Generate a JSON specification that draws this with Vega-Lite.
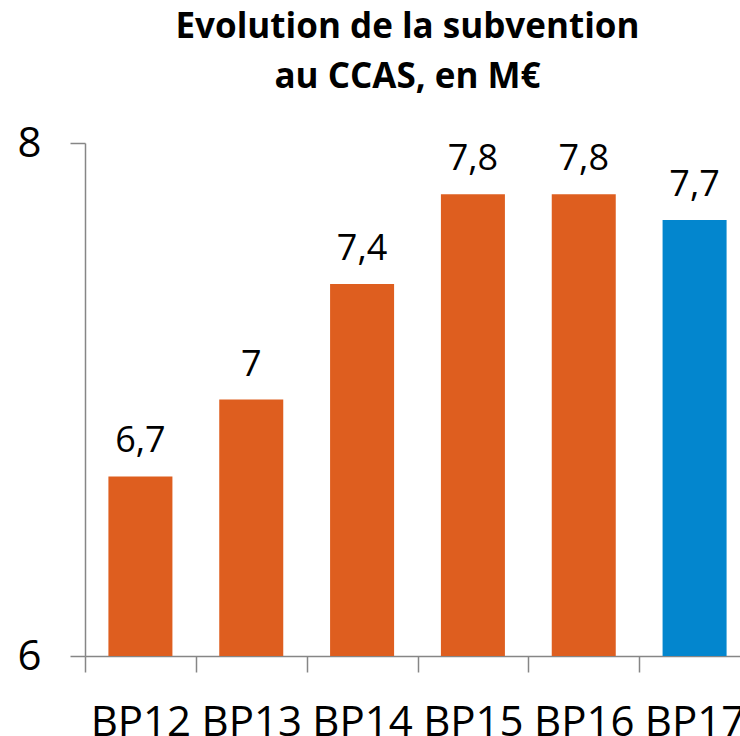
{
  "$schema": "https://vega.github.io/schema/vega-lite/v6.json",
  "width": 665,
  "height": 513,
  "autosize": {"type": "none"},
  "padding": {"left": 85, "top": 143, "right": 0, "bottom": 80},
  "background": "white",
  "config": {"view": {"stroke": null}},
  "title": {
    "text": ["Evolution de la subvention", "au CCAS, en M€"],
    "font": "Open Sans",
    "fontSize": 35,
    "fontWeight": "bold",
    "color": "black",
    "lineHeight": 50,
    "frame": "group",
    "anchor": "middle",
    "baseline": "alphabetic",
    "offset": 3,
    "dy": 4,
    "dx": -10
  },
  "data": {
    "values": [
      {"annee": "BP12", "valeur": 6.7, "etiquette": "6,7", "type": "realise"},
      {"annee": "BP13", "valeur": 7.0, "etiquette": "7", "type": "realise"},
      {"annee": "BP14", "valeur": 7.45, "etiquette": "7,4", "type": "realise"},
      {"annee": "BP15", "valeur": 7.8, "etiquette": "7,8", "type": "realise"},
      {"annee": "BP16", "valeur": 7.8, "etiquette": "7,8", "type": "realise"},
      {"annee": "BP17", "valeur": 7.7, "etiquette": "7,7", "type": "prevision"}
    ]
  },
  "encoding": {
    "x": {
      "field": "annee",
      "type": "nominal",
      "sort": null,
      "scale": {"paddingInner": 0, "paddingOuter": 0},
      "axis": {
        "title": null,
        "tickBand": "extent",
        "tickSize": 16,
        "tickWidth": 1.5,
        "tickColor": "#868686",
        "domainColor": "#868686",
        "domainWidth": 1.5,
        "labelPadding": 30,
        "labelFont": "Open Sans",
        "labelFontSize": 42,
        "labelColor": "black",
        "labelAngle": 0,
        "labelOverlap": false,
        "labelBound": false,
        "labelFlush": false
      }
    },
    "y": {
      "field": "valeur",
      "type": "quantitative",
      "scale": {"domain": [6, 8], "zero": false, "nice": false},
      "axis": {
        "title": null,
        "values": [6, 7, 8],
        "format": "d",
        "grid": false,
        "tickSize": 15,
        "tickWidth": 1.5,
        "tickColor": "#868686",
        "domainColor": "#868686",
        "domainWidth": 1.5,
        "labelPadding": 29,
        "labelFont": "Open Sans",
        "labelFontSize": 42,
        "labelColor": "black",
        "labelOverlap": false,
        "labelBound": false,
        "labelFlush": false
      }
    }
  },
  "layer": [
    {
      "mark": {"type": "bar", "width": {"band": 0.5775}},
      "encoding": {
        "y2": {"datum": 6},
        "color": {
          "field": "type",
          "type": "nominal",
          "scale": {"domain": ["realise", "prevision"], "range": ["#DE5E1F", "#0386CE"]},
          "legend": null
        }
      }
    },
    {
      "mark": {
        "type": "text",
        "font": "Open Sans",
        "fontSize": 36,
        "baseline": "alphabetic",
        "dy": -24,
        "color": "black"
      },
      "encoding": {
        "text": {"field": "etiquette"}
      }
    }
  ]
}
